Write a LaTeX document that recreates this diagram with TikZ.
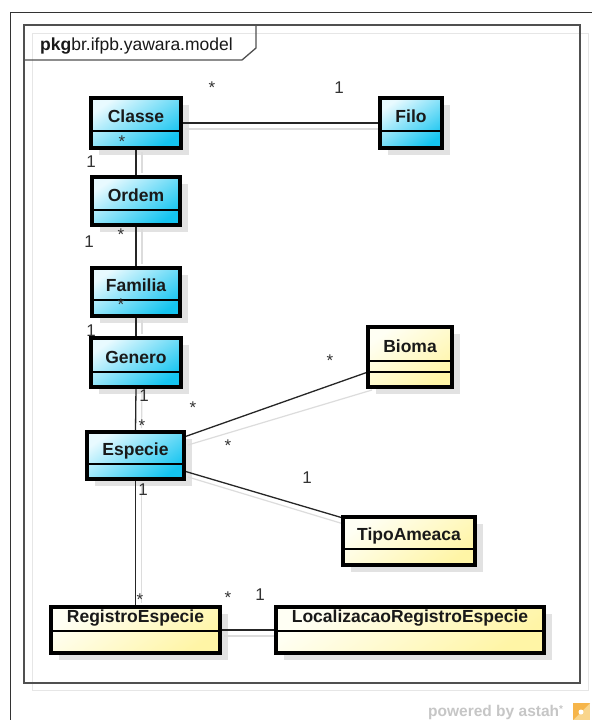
\documentclass[tikz,border=0pt]{standalone}
\usepackage{fontspec}
\setmainfont{Liberation Sans}
\definecolor{bluetop}{HTML}{E8FAFF}
\definecolor{bluebot}{HTML}{14C4F0}
\definecolor{yeltop}{HTML}{FFFFF4}
\definecolor{yelbot}{HTML}{FFF5A6}
\definecolor{shadowc}{HTML}{E2E2E2}
\definecolor{lineshc}{HTML}{DCDCDC}
\definecolor{framec}{HTML}{505050}
\definecolor{frameshc}{HTML}{E6E6E6}
\definecolor{labelc}{HTML}{333333}
\definecolor{astahc}{HTML}{C6C6C6}
\definecolor{logoa}{HTML}{F6B54A}
\definecolor{logob}{HTML}{F9D58C}
\pgfdeclarelayer{back}
\pgfdeclarelayer{shadow}
\pgfdeclarelayer{bg}
\pgfsetlayers{back,shadow,bg,main}
\newcommand{\umlcls}[8]{%
  \begin{pgfonlayer}{shadow}
    \fill[shadowc] (#3+8,#4+7) rectangle (#5+8,#6+7);
  \end{pgfonlayer}
  \node[#2, minimum width={#5-#3}, minimum height={#6-#4}] (#1) at ({(#3+#5)/2},{(#4+#6)/2}) {};
  \draw[divider] (#3,#7) -- (#5,#7);
  \node[clsname, anchor=base] (#1-name) at ({(#3+#5)/2},{#7-8.5}) {#8};
}
\begin{document}
\begin{tikzpicture}[x=1pt,y=-1pt,
  bluebox/.style={draw=black, line width=3.3pt, top color=bluetop, bottom color=bluebot, shading angle=35, inner sep=0pt, outer sep=0pt},
  yelbox/.style={draw=black, line width=3.3pt, top color=yeltop, bottom color=yelbot, shading angle=35, inner sep=0pt, outer sep=0pt},
  divider/.style={draw=black, line width=1.1pt},
  clsname/.style={font=\fontsize{17.5}{20}\selectfont\bfseries, text=black!90, inner sep=0pt},
  assoc/.style={draw=black!85, line width=1.3pt},
  assocsh/.style={draw=lineshc, line width=1.2pt},
  mult/.style={font=\fontsize{17}{17}\selectfont, text=labelc, inner sep=0pt, text height=12pt, text depth=0pt}
]
\useasboundingbox (0,0) rectangle (592,720);
\begin{pgfonlayer}{back}
\fill[white] (0,0) rectangle (592,720);
% outer frame
\draw[black!80, line width=1pt] (10,720) -- (10,12) -- (592,12);
% package frame
\draw[frameshc, line width=1pt] (32,33) rectangle (588,690);
\fill[white] (25,26) rectangle (579,682);
\draw[frameshc, line width=1pt] (32,33) -- (579,33);
\draw[frameshc, line width=1pt] (32,33) -- (32,682);
\draw[framec, line width=1.3pt] (24,25) rectangle (580,683);
\draw[framec, line width=1.3pt] (24,60) -- (242,60) -- (256,48) -- (256,25);
\end{pgfonlayer}
\node[anchor=base west, inner sep=0pt, font=\fontsize{17.5}{20}\selectfont, text=black!90] (pkg) at (40,50) {\textbf{pkg}br.ifpb.yawara.model};

% classes
\umlcls{classe}{bluebox}{91}{98}{181}{148}{131}{Classe}
\umlcls{filo}{bluebox}{380}{98}{442}{148}{131}{Filo}
\umlcls{ordem}{bluebox}{92}{177}{180}{225}{210}{Ordem}
\umlcls{familia}{bluebox}{92}{268}{180}{316}{300}{Familia}
\umlcls{genero}{bluebox}{91}{338}{181}{387}{372}{Genero}
\umlcls{especie}{bluebox}{87}{432}{184}{479}{464}{Especie}
\umlcls{bioma}{yelbox}{368}{327}{452}{387}{361}{Bioma}
\draw[divider] (368,372) -- (452,372);
\umlcls{tipo}{yelbox}{343}{517}{475}{565}{549}{TipoAmeaca}
\umlcls{registro}{yelbox}{51}{607}{220}{653}{631}{RegistroEspecie}
\umlcls{local}{yelbox}{276}{607}{544}{653}{631}{LocalizacaoRegistroEspecie}

% connectors
\begin{pgfonlayer}{bg}
  \draw[assocsh] ([shift={(4,6)}]classe.east) -- ([shift={(4,6)}]filo.west);
  \draw[assocsh] ([shift={(6,4)}]classe.south) -- ([shift={(6,-4)}]ordem.north);
  \draw[assocsh] ([shift={(6,4)}]ordem.south) -- ([shift={(6,-4)}]familia.north);
  \draw[assocsh] ([shift={(6,4)}]familia.south) -- ([shift={(6,-4)}]genero.north);
  \draw[assocsh] ([shift={(6,4)}]genero.south) -- ([shift={(6,-4)}]especie.north);
  \draw[assocsh] ([shift={(6,4)}]especie.south) -- ([shift={(6,-4)}]registro.north);
  \draw[assocsh] ([shift={(4,13)}]especie.north east) -- ([shift={(4,3)}]bioma.south west);
  \draw[assocsh] ([shift={(4,-2)}]especie.south east) -- ([shift={(4,8)}]tipo.north west);
  \draw[assocsh] ([shift={(4,6)}]registro.east) -- ([shift={(4,6)}]local.west);

  \draw[assoc] (classe) -- (filo);
  \draw[assoc] (classe.south) -- (ordem.north);
  \draw[assoc] (ordem.south) -- (familia.north);
  \draw[assoc] (familia.south) -- (genero.north);
  \draw[assoc] (genero.south) -- (especie.north);
  \draw[assoc] (especie.south) -- (registro.north);
  \draw[assoc] ([shift={(0,5)}]especie.north east) -- ([shift={(0,-15)}]bioma.south west);
  \draw[assoc] ([shift={(0,-8)}]especie.south east) -- ([shift={(0,1)}]tipo.north west);
  \draw[assoc] (registro) -- (local);
\end{pgfonlayer}

% multiplicities
\node[mult] (m1) at (212,87) {*};
\node[mult] (m2) at (339,87) {1};
\node[mult] (m3) at (122,141) {*};
\node[mult] (m4) at (91,161) {1};
\node[mult] (m5) at (121,234) {*};
\node[mult] (m6) at (89,241) {1};
\node[mult] (m7) at (121,304) {*};
\node[mult] (m8) at (91,330) {1};
\node[mult] (m9) at (144,395) {1};
\node[mult] (m10) at (142,425) {*};
\node[mult] (m11) at (193,407) {*};
\node[mult] (m12) at (330,360) {*};
\node[mult] (m13) at (228,445) {*};
\node[mult] (m14) at (307,477) {1};
\node[mult] (m15) at (143,489) {1};
\node[mult] (m16) at (140,599) {*};
\node[mult] (m17) at (228,597) {*};
\node[mult] (m18) at (260,594) {1};

% powered by astah
\node[anchor=west, inner sep=0pt, font=\fontsize{15.5}{16}\selectfont\bfseries, text=astahc] (powered) at (428,712) {powered by astah\raisebox{4pt}{\fontsize{10}{10}\selectfont *}};
\fill[logob] (573,703) rectangle (590,720);
\fill[logoa] (573,703) -- (590,703) -- (573,720) -- cycle;
\fill[white] (581,712) circle (2.5);
\end{tikzpicture}
\end{document}
